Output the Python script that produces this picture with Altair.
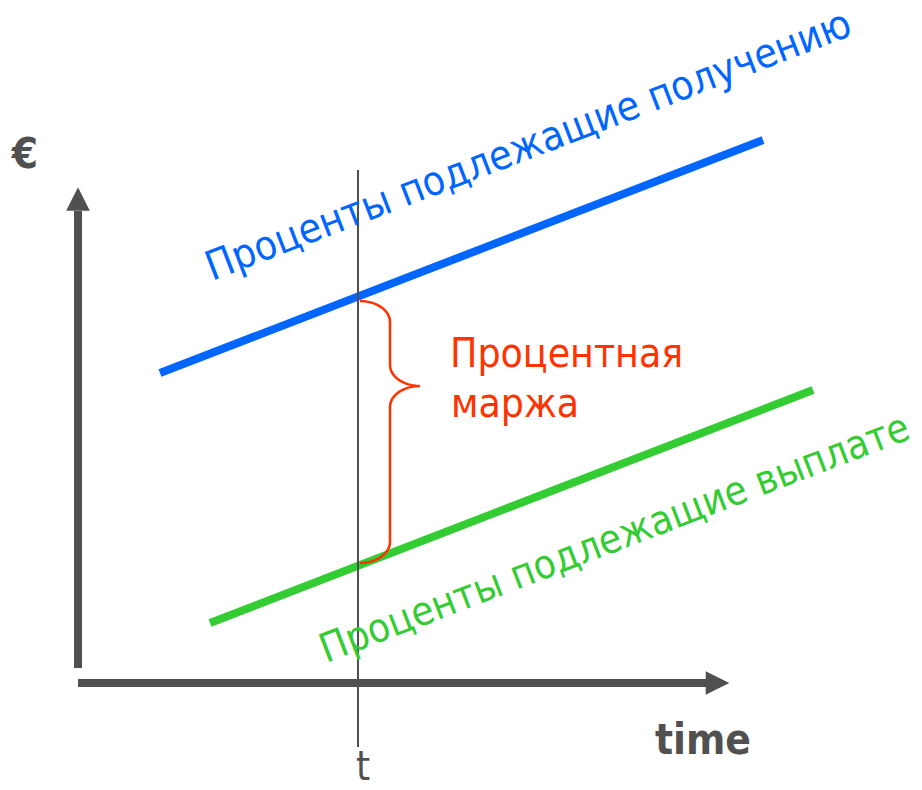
import altair as alt
import pandas as pd
import numpy as np

# ---- data (diagram units: time along x, € along y) ----
X_DOM = [-70, 836]
Y_DOM = [-99, 675]

blue_t = [82, 685]
blue_v = [310, 543]
green_t = [132, 735]
green_v = [60, 293]

t_mark = 280
t_line_v = [-64, 513]

yaxis_t = [0, 0]
yaxis_v = [15, 472]
xaxis_t = [0, 628]
xaxis_v = [0, 0]
arrow_up = [0, 484]
arrow_right = [639.5, 0]

# brace between the two lines at time t
brace_x0 = 282
brace_w = 30
brace_top = 382
brace_tip = 297
brace_bottom = 120
brace_r = 21

labels_rot = ["Проценты подлежащие получению", "Проценты подлежащие выплате"]
labels_rot_t = [134, 248]
labels_rot_v = [402, 20]
labels_rot_col = ["#0066ff", "#33cc33"]
labels_rot_size = [40.8, 40.2]

margin_lines = ["Процентная", "маржа"]
margin_t = [372, 373]
margin_v = [316, 266]

FONT = "DejaVu Sans Condensed, DejaVu Sans"
GRAY = "#505050"
RED = "#ff3300"

xs = alt.Scale(domain=X_DOM, nice=False, zero=False)
ys = alt.Scale(domain=Y_DOM, nice=False, zero=False)


def X(f="x"):
    return alt.X(f"{f}:Q", scale=xs, axis=None)


def Y(f="y"):
    return alt.Y(f"{f}:Q", scale=ys, axis=None)


def seg(tt, vv, color, width):
    df = pd.DataFrame({"x": tt, "y": vv, "o": list(range(len(tt)))})
    return alt.Chart(df).mark_line(color=color, strokeWidth=width, strokeCap="butt").encode(
        x=X(), y=Y(), order="o:Q")


layers = []
layers.append(seg(yaxis_t, yaxis_v, GRAY, 8))
layers.append(seg(xaxis_t, xaxis_v, GRAY, 8))
layers.append(alt.Chart(pd.DataFrame({"x": [arrow_up[0]], "y": [arrow_up[1]]})).mark_point(
    shape="M-1,1L0,-1L1,1Z", filled=True, color=GRAY, opacity=1, size=560).encode(x=X(), y=Y()))
layers.append(alt.Chart(pd.DataFrame({"x": [arrow_right[0]], "y": [arrow_right[1]]})).mark_point(
    shape="M-1,-1L1,0L-1,1Z", filled=True, color=GRAY, opacity=1, size=560).encode(x=X(), y=Y()))

layers.append(seg(blue_t, blue_v, "#0066ff", 8))
layers.append(seg(green_t, green_v, "#33cc33", 8))
layers.append(seg([t_mark, t_mark], t_line_v, GRAY, 2))

# brace path
th = np.linspace(0, np.pi / 2, 12)
x0, w, r = brace_x0, brace_w, brace_r
bx, by = [], []
bx += list(x0 + w * np.sin(th)); by += list(brace_top - r + r * np.cos(th))
bx += list(x0 + 2 * w - w * np.cos(th)); by += list(brace_tip + r - r * np.sin(th))
bx += list(x0 + 2 * w - w * np.sin(th)); by += list(brace_tip - r + r * np.cos(th))
bx += list(x0 + w * np.cos(th)); by += list(brace_bottom + r - r * np.sin(th))
layers.append(seg(bx, by, RED, 2.5))

for lab, tx, ty, col, fs in zip(labels_rot, labels_rot_t, labels_rot_v, labels_rot_col, labels_rot_size):
    layers.append(alt.Chart(pd.DataFrame({"x": [tx], "y": [ty], "l": [lab]})).mark_text(
        align="left", baseline="alphabetic", angle=339, fontSize=fs, font=FONT, color=col
    ).encode(x=X(), y=Y(), text="l:N"))

layers.append(alt.Chart(pd.DataFrame({"x": margin_t, "y": margin_v, "l": margin_lines})).mark_text(
    align="left", baseline="alphabetic", fontSize=40.5, font=FONT, color=RED
).encode(x=X(), y=Y(), text="l:N"))

misc = pd.DataFrame({"x": [-53, 625, 285], "y": [515, -71, -97], "l": ["€", "time", "t"],
                     "w": ["bold", "bold", "normal"], "s": [42, 42, 40]})
layers.append(alt.Chart(misc[misc.w == "bold"]).mark_text(
    align="center", baseline="alphabetic", fontWeight="bold", font=FONT, color=GRAY
).encode(x=X(), y=Y(), text="l:N", size=alt.Size("s:Q", scale=None, legend=None)))
layers.append(alt.Chart(misc[misc.w == "normal"]).mark_text(
    align="center", baseline="alphabetic", font=FONT, color=GRAY
).encode(x=X(), y=Y(), text="l:N", size=alt.Size("s:Q", scale=None, legend=None)))

chart = alt.layer(*layers).properties(
    width=906, height=774, autosize=alt.AutoSizeParams(type="none"), padding=0
).configure_view(stroke=None)

chart.save("out.html", embed_options={"renderer": "svg", "actions": False})
